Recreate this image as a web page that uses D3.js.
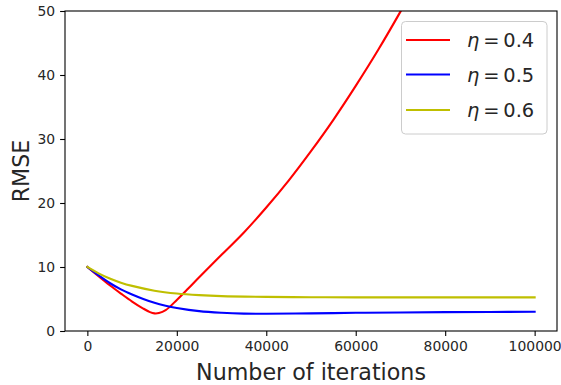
<!DOCTYPE html>
<html><head><meta charset="utf-8">
<script src="https://cdn.jsdelivr.net/npm/d3@7"></script>
<style>body{margin:0;background:#fff;} svg{display:block;font-family:"DejaVu Sans",sans-serif;}</style>
</head><body>
<svg id="c" width="561" height="385"></svg>
<script>
const redX = [0, 2500, 5000, 7500, 10000, 12500, 14000, 15000, 16000, 17500, 20000, 22500, 25000, 30000, 35000, 40000, 45000, 50000, 55000, 60000, 65000, 70000, 75000];
const redY = [10, 8.55, 7.15, 5.85, 4.6, 3.5, 2.95, 2.75, 2.8, 3.25, 4.85, 6.6, 8.4, 11.9, 15.4, 19.3, 23.5, 28.1, 33.0, 38.3, 43.9, 49.9, 56.2];
const blueX = [0, 2500, 5000, 7500, 10000, 12500, 15000, 17500, 20000, 25000, 30000, 35000, 40000, 50000, 60000, 70000, 80000, 90000, 100000];
const blueY = [10, 8.7, 7.5, 6.5, 5.7, 5.0, 4.4, 3.95, 3.6, 3.1, 2.85, 2.72, 2.7, 2.76, 2.84, 2.9, 2.95, 2.98, 3.0];
const yellowX = [0, 2500, 5000, 7500, 10000, 15000, 20000, 25000, 30000, 40000, 50000, 60000, 80000, 100000];
const yellowY = [10, 9.0, 8.2, 7.55, 7.05, 6.3, 5.85, 5.6, 5.45, 5.33, 5.28, 5.26, 5.25, 5.25];
const seriesLabels = ["0.4", "0.5", "0.6"];
const xTicks = [0, 20000, 40000, 60000, 80000, 100000];
const yTicks = [0, 10, 20, 30, 40, 50];

const colors = ["#ff0000", "#0000ff", "#bfbf00"];
const series = [
  redX.map((x, i) => [x, redY[i]]),
  blueX.map((x, i) => [x, blueY[i]]),
  yellowX.map((x, i) => [x, yellowY[i]])
];

const svg = d3.select("#c");
const L = 65, R = 557, T = 11, B = 331;
const x = d3.scaleLinear().domain([-5000, 105000]).range([L, R]);
const y = d3.scaleLinear().domain([0, 50]).range([B, T]);

svg.append("defs").append("clipPath").attr("id", "clip")
  .append("rect").attr("x", L).attr("y", T).attr("width", R - L).attr("height", B - T);

const line = d3.line().x(d => x(d[0])).y(d => y(d[1])).curve(d3.curveCatmullRom.alpha(0.5));
const g = svg.append("g").attr("clip-path", "url(#clip)");
series.forEach((s, i) => {
  g.append("path").datum(s).attr("d", line)
    .attr("fill", "none").attr("stroke", colors[i]).attr("stroke-width", 2.1)
    .attr("stroke-linejoin", "round").attr("stroke-linecap", "square");
});

// axes
const xAxis = d3.axisBottom(x).tickValues(xTicks).tickFormat(d3.format("d")).tickSizeOuter(0).tickSize(4.9).tickPadding(4.9);
const yAxis = d3.axisLeft(y).tickValues(yTicks).tickFormat(d3.format("d")).tickSizeOuter(0).tickSize(4.9).tickPadding(4.9);
const gx = svg.append("g").attr("transform", `translate(0,${B})`).call(xAxis);
const gy = svg.append("g").attr("transform", `translate(${L},0)`).call(yAxis);
[gx, gy].forEach(a => {
  a.select(".domain").remove();
  a.selectAll("line").attr("stroke", "#000").attr("stroke-width", 1.1);
  a.selectAll("text").attr("font-size", 13.9).attr("fill", "#262626").attr("font-family", "DejaVu Sans");
});

// frame
svg.append("rect").attr("x", L).attr("y", T).attr("width", R - L).attr("height", B - T)
  .attr("fill", "none").attr("stroke", "#000").attr("stroke-width", 1.1);

// labels
svg.append("text").attr("x", (L + R) / 2).attr("y", 380).attr("text-anchor", "middle")
  .attr("font-size", 22.2).attr("fill", "#262626").text("Number of iterations");
svg.append("text").attr("transform", `translate(29,${(T + B) / 2}) rotate(-90)`).attr("text-anchor", "middle")
  .attr("font-size", 22.2).attr("fill", "#262626").text("RMSE");

// legend
const lg = svg.append("g");
lg.append("rect").attr("x", 401.5).attr("y", 21.5).attr("width", 145.5).attr("height", 112.5)
  .attr("rx", 4).attr("fill", "rgba(255,255,255,0.8)").attr("stroke", "#cccccc").attr("stroke-width", 1);
const rowY = [40, 74.5, 110];
seriesLabels.forEach((lab, i) => {
  lg.append("line").attr("x1", 406).attr("x2", 450).attr("y1", rowY[i]).attr("y2", rowY[i])
    .attr("stroke", colors[i]).attr("stroke-width", 2.1);
  const t = lg.append("text").attr("x", 467).attr("y", rowY[i] + 7).attr("font-size", 19.4).attr("fill", "#262626");
  t.append("tspan").attr("font-style", "italic").text("η");
  t.append("tspan").text("\u2009=\u2009" + lab);
});
</script>
</body></html>
